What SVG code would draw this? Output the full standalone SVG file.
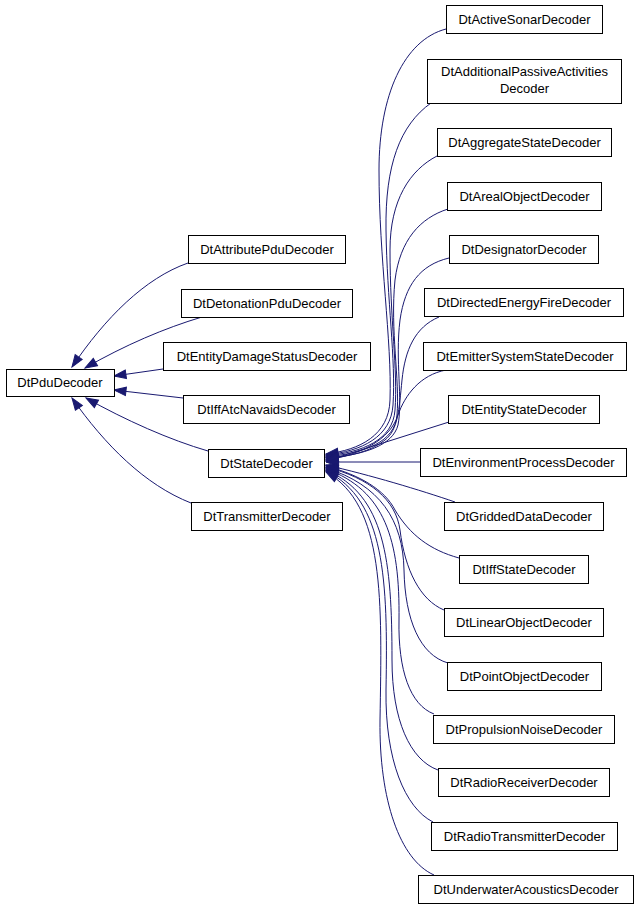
<svg xmlns="http://www.w3.org/2000/svg" width="635" height="909" viewBox="0 0 635 909">
<defs>
<style>
.n rect{fill:#fff;stroke:#000;stroke-width:1}
.n text{font-family:"Liberation Sans",Arial,sans-serif;font-size:13px;text-anchor:middle;fill:#000}
.e path{fill:none;stroke:#191970;stroke-width:1;marker-end:url(#a)}
</style>
<marker id="a" markerUnits="userSpaceOnUse" markerWidth="14" markerHeight="10" refX="12" refY="4.25" orient="auto" overflow="visible">
<path d="M0,0 L12,4.25 L0,8.5 z" fill="#191970" stroke="#191970" stroke-width="1"/>
</marker>
</defs>
<rect width="635" height="909" fill="#fff"/>
<g id="connectors" class="e">
<path d="M188,263 C145,278 105,318 72,367"/>
<path d="M202,317 C165,328 125,345 85,368"/>
<path d="M163,369 L114,376"/>
<path d="M183,398 L114,390"/>
<path d="M208,451 C170,440 125,420 86,398"/>
<path d="M191,503 C145,485 105,445 72,398"/>
<path d="M446,29 C404,40 379,95 379,170 C379,260 392,340 390,400 C389,435 360,450 326,454"/>
<path d="M431,103 C400,125 385,165 386,230 C387,300 396,360 393,405 C391,437 362,451 326,455"/>
<path d="M437,156 C410,170 390,200 390,250 C390,320 398,370 395,410 C393,440 363,452 326,456"/>
<path d="M448,209 C420,218 400,240 395,280 C390,330 400,380 397,415 C395,442 365,453 326,457"/>
<path d="M449,258 C420,265 405,285 400,320 C395,360 403,400 398,425 C393,445 365,455 326,458"/>
<path d="M439,317 C415,327 405,350 402,380 C399,410 398,430 385,440 C370,452 350,456 326,459"/>
<path d="M446,370 C420,375 405,395 398,415 C390,440 360,455 326,460"/>
<path d="M449,422 L326,461"/>
<path d="M420,462 L326,462"/>
<path d="M455,502 C420,490 370,475 326,465"/>
<path d="M459,558 C430,550 410,535 395,510 C385,490 360,475 326,466"/>
<path d="M444,610 C420,600 405,570 400,530 C396,500 370,478 326,467"/>
<path d="M448,663 C420,655 405,620 404,570 C403,520 380,485 326,468"/>
<path d="M434,714 C410,705 398,670 399,620 C400,540 385,490 326,469"/>
<path d="M438,770 C410,760 392,720 392,660 C392,560 385,495 326,470"/>
<path d="M433,822 C405,808 385,760 386,690 C388,580 385,500 326,471"/>
<path d="M434,875 C400,860 379,800 380,720 C382,600 385,505 326,472"/>
</g>
<g id="DtPduDecoder" class="n"><rect x="6.5" y="369.5" width="108" height="27"/><text x="60" y="387">DtPduDecoder</text></g>
<g id="DtAttributePduDecoder" class="n"><rect x="188.5" y="235.5" width="157" height="28"/><text x="267" y="254">DtAttributePduDecoder</text></g>
<g id="DtDetonationPduDecoder" class="n"><rect x="181.5" y="289.5" width="171" height="28"/><text x="267" y="308">DtDetonationPduDecoder</text></g>
<g id="DtEntityDamageStatusDecoder" class="n"><rect x="163.5" y="342.5" width="207" height="28"/><text x="267" y="361">DtEntityDamageStatusDecoder</text></g>
<g id="DtIffAtcNavaidsDecoder" class="n"><rect x="183.5" y="395.5" width="166" height="28"/><text x="266.5" y="414">DtIffAtcNavaidsDecoder</text></g>
<g id="DtStateDecoder" class="n"><rect x="208.5" y="449.5" width="116" height="28"/><text x="266.5" y="468">DtStateDecoder</text></g>
<g id="DtTransmitterDecoder" class="n"><rect x="191.5" y="502.5" width="151" height="28"/><text x="267" y="521">DtTransmitterDecoder</text></g>
<g id="DtActiveSonarDecoder" class="n"><rect x="446.5" y="5.5" width="156" height="28"/><text x="524.5" y="24">DtActiveSonarDecoder</text></g>
<g id="DtAdditionalPassiveActivitiesDecoder" class="n"><rect x="427.5" y="59.5" width="194" height="44"/><text x="524.5" y="76">DtAdditionalPassiveActivities</text><text x="524.5" y="93">Decoder</text></g>
<g id="DtAggregateStateDecoder" class="n"><rect x="437.5" y="128.5" width="174" height="28"/><text x="524.5" y="147">DtAggregateStateDecoder</text></g>
<g id="DtArealObjectDecoder" class="n"><rect x="447.5" y="182.5" width="154" height="28"/><text x="524.5" y="201">DtArealObjectDecoder</text></g>
<g id="DtDesignatorDecoder" class="n"><rect x="449.5" y="235.5" width="149" height="28"/><text x="524" y="254">DtDesignatorDecoder</text></g>
<g id="DtDirectedEnergyFireDecoder" class="n"><rect x="424.5" y="288.5" width="199" height="28"/><text x="524" y="307">DtDirectedEnergyFireDecoder</text></g>
<g id="DtEmitterSystemStateDecoder" class="n"><rect x="423.5" y="342.5" width="203" height="28"/><text x="525" y="361">DtEmitterSystemStateDecoder</text></g>
<g id="DtEntityStateDecoder" class="n"><rect x="448.5" y="395.5" width="151" height="28"/><text x="524" y="414">DtEntityStateDecoder</text></g>
<g id="DtEnvironmentProcessDecoder" class="n"><rect x="420.5" y="448.5" width="206" height="28"/><text x="523.5" y="467">DtEnvironmentProcessDecoder</text></g>
<g id="DtGriddedDataDecoder" class="n"><rect x="444.5" y="502.5" width="159" height="28"/><text x="524" y="521">DtGriddedDataDecoder</text></g>
<g id="DtIffStateDecoder" class="n"><rect x="459.5" y="555.5" width="129" height="28"/><text x="524" y="574">DtIffStateDecoder</text></g>
<g id="DtLinearObjectDecoder" class="n"><rect x="444.5" y="608.5" width="159" height="28"/><text x="524" y="627">DtLinearObjectDecoder</text></g>
<g id="DtPointObjectDecoder" class="n"><rect x="447.5" y="662.5" width="154" height="28"/><text x="524.5" y="681">DtPointObjectDecoder</text></g>
<g id="DtPropulsionNoiseDecoder" class="n"><rect x="433.5" y="715.5" width="181" height="28"/><text x="524" y="734">DtPropulsionNoiseDecoder</text></g>
<g id="DtRadioReceiverDecoder" class="n"><rect x="438.5" y="768.5" width="171" height="28"/><text x="524" y="787">DtRadioReceiverDecoder</text></g>
<g id="DtRadioTransmitterDecoder" class="n"><rect x="431.5" y="822.5" width="186" height="28"/><text x="524.5" y="841">DtRadioTransmitterDecoder</text></g>
<g id="DtUnderwaterAcousticsDecoder" class="n"><rect x="418.5" y="875.5" width="215" height="28"/><text x="526" y="894">DtUnderwaterAcousticsDecoder</text></g>
</svg>
